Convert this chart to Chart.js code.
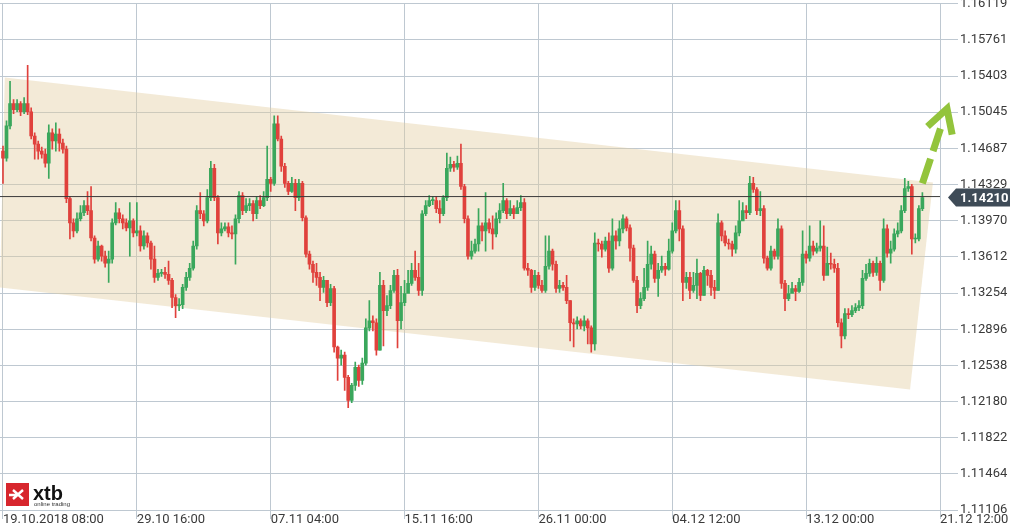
<!DOCTYPE html>
<html>
<head>
<meta charset="utf-8">
<script src="https://cdn.jsdelivr.net/npm/chart.js@4.4.0/dist/chart.umd.min.js"></script>
<style>
  html, body { margin: 0; padding: 0; background: #fff; overflow: hidden; }
  #wrap { width: 1016px; height: 524px; position: relative; overflow: hidden; }
  #chart { position: absolute; left: 0; top: -6px; }
</style>
</head>
<body>
<div id="wrap"><canvas id="chart" width="1016" height="530"></canvas></div>
<script>
// EURUSD H4, 19.10 - 21.12.2018
const xTickLabels = ["19.10.2018 08:00", "29.10 16:00", "07.11 04:00", "15.11 16:00",
  "26.11 00:00", "04.12 12:00", "13.12 00:00", "21.12 12:00"];
const xTickPositions = [0, 38, 76, 114, 152, 190, 228, 266];
const yTickLabels = ["1.11106", "1.11464", "1.11822", "1.12180", "1.12538", "1.12896", "1.13254",
  "1.13612", "1.13970", "1.14329", "1.14687", "1.15045", "1.15403", "1.15761", "1.16119"];

const firstOpen = 1.1466;
const closes = [
  1.1459,1.1491,1.1513,1.1507,1.1513,1.1505,1.1513,1.1505,1.1481,1.1473,
  1.1466,1.1463,1.1454,1.1484,1.1476,1.1483,1.1474,1.1468,1.1419,1.1395,
  1.1387,1.1399,1.1405,1.1412,1.1407,1.1380,1.1359,1.1372,1.1362,1.1355,
  1.1359,1.1395,1.1405,1.1399,1.1395,1.1390,1.1397,1.1385,1.1387,1.1372,
  1.1382,1.1375,1.1359,1.1341,1.1345,1.1346,1.1344,1.1338,1.1321,1.1313,
  1.1314,1.1331,1.1341,1.1350,1.1372,1.1407,1.1404,1.1397,1.1420,1.1449,
  1.1420,1.1385,1.1389,1.1391,1.1385,1.1384,1.1399,1.1422,1.1407,1.1412,
  1.1414,1.1404,1.1417,1.1412,1.1420,1.1438,1.1434,1.1493,1.1478,1.1451,
  1.1434,1.1426,1.1434,1.1420,1.1434,1.1400,1.1364,1.1354,1.1346,1.1341,
  1.1331,1.1338,1.1316,1.1330,1.1272,1.1261,1.1264,1.1242,1.1219,1.1234,
  1.1252,1.1239,1.1256,1.1291,1.1298,1.1296,1.1269,1.1333,1.1308,1.1313,
  1.1328,1.1343,1.1298,1.1316,1.1325,1.1335,1.1348,1.1341,1.1328,1.1404,
  1.1412,1.1417,1.1417,1.1409,1.1404,1.1420,1.1449,1.1453,1.1450,1.1454,
  1.1431,1.1399,1.1362,1.1367,1.1374,1.1392,1.1387,1.1395,1.1389,1.1384,
  1.1399,1.1407,1.1417,1.1404,1.1409,1.1404,1.1410,1.1415,1.1350,1.1348,
  1.1331,1.1343,1.1333,1.1328,1.1352,1.1367,1.1354,1.1330,1.1333,1.1331,
  1.1318,1.1296,1.1295,1.1298,1.1293,1.1298,1.1291,1.1275,1.1375,1.1374,
  1.1369,1.1377,1.1350,1.1382,1.1377,1.1389,1.1399,1.1390,1.1370,1.1338,
  1.1313,1.1320,1.1331,1.1354,1.1364,1.1340,1.1348,1.1352,1.1349,1.1367,
  1.1387,1.1407,1.1389,1.1336,1.1341,1.1328,1.1333,1.1345,1.1323,1.1348,
  1.1343,1.1331,1.1328,1.1395,1.1382,1.1375,1.1374,1.1369,1.1385,1.1397,
  1.1407,1.1405,1.1434,1.1428,1.1407,1.1409,1.1360,1.1350,1.1367,1.1362,
  1.1389,1.1335,1.1320,1.1325,1.1330,1.1327,1.1336,1.1364,1.1360,1.1372,
  1.1367,1.1370,1.1372,1.1343,1.1355,1.1354,1.1350,1.1296,1.1283,1.1305,
  1.1304,1.1308,1.1311,1.1313,1.1340,1.1345,1.1355,1.1346,1.1355,1.1338,
  1.1389,1.1365,1.1369,1.1384,1.1387,1.1407,1.1429,1.1431,1.1379,1.1379,
  1.1409,1.1420
];
const highs = [
  1.1471,1.1496,1.1535,1.1517,1.1517,1.1515,1.1519,1.1551,1.1509,1.1484,
  1.1476,1.1470,1.1468,1.1492,1.1488,1.1494,1.1488,1.1478,1.1471,1.1421,
  1.1399,1.1405,1.1412,1.1417,1.1426,1.1431,1.1382,1.1377,1.1373,1.1367,
  1.1367,1.1399,1.1415,1.1409,1.1403,1.1399,1.1415,1.1399,1.1415,1.1392,
  1.1387,1.1385,1.1377,1.1372,1.1349,1.1349,1.1351,1.1357,1.1340,1.1324,
  1.1320,1.1334,1.1346,1.1355,1.1377,1.1412,1.1425,1.1407,1.1428,1.1456,
  1.1453,1.1422,1.1395,1.1395,1.1395,1.1392,1.1403,1.1426,1.1425,1.1419,
  1.1419,1.1417,1.1421,1.1422,1.1426,1.1471,1.1440,1.1501,1.1501,1.1481,
  1.1454,1.1436,1.1440,1.1438,1.1438,1.1436,1.1402,1.1367,1.1357,1.1355,
  1.1346,1.1342,1.1338,1.1334,1.1332,1.1273,1.1269,1.1267,1.1244,1.1236,
  1.1257,1.1254,1.1261,1.1300,1.1318,1.1303,1.1300,1.1346,1.1338,1.1323,
  1.1333,1.1348,1.1349,1.1332,1.1338,1.1348,1.1355,1.1367,1.1355,1.1407,
  1.1417,1.1422,1.1421,1.1421,1.1417,1.1422,1.1464,1.1460,1.1456,1.1461,
  1.1473,1.1433,1.1402,1.1377,1.1379,1.1409,1.1395,1.1425,1.1399,1.1402,
  1.1405,1.1414,1.1434,1.1419,1.1417,1.1412,1.1417,1.1422,1.1419,1.1355,
  1.1349,1.1348,1.1346,1.1338,1.1382,1.1382,1.1369,1.1357,1.1338,1.1336,
  1.1343,1.1318,1.1300,1.1302,1.1300,1.1303,1.1300,1.1293,1.1385,1.1379,
  1.1377,1.1381,1.1385,1.1399,1.1387,1.1397,1.1403,1.1401,1.1393,1.1373,
  1.1342,1.1326,1.1350,1.1377,1.1372,1.1367,1.1355,1.1362,1.1355,1.1379,
  1.1395,1.1417,1.1417,1.1392,1.1346,1.1346,1.1346,1.1359,1.1346,1.1352,
  1.1349,1.1348,1.1338,1.1404,1.1397,1.1387,1.1379,1.1377,1.1392,1.1417,
  1.1415,1.1412,1.1441,1.1440,1.1430,1.1426,1.1412,1.1362,1.1372,1.1369,
  1.1399,1.1392,1.1338,1.1333,1.1336,1.1333,1.1340,1.1387,1.1367,1.1392,
  1.1377,1.1375,1.1397,1.1392,1.1371,1.1365,1.1359,1.1355,1.1300,1.1310,
  1.1310,1.1313,1.1315,1.1318,1.1348,1.1354,1.1359,1.1357,1.1361,1.1357,
  1.1399,1.1393,1.1377,1.1389,1.1395,1.1412,1.1439,1.1436,1.1433,1.1384,
  1.1412,1.1425
];
const lows = [
  1.1434,1.1456,1.1488,1.1503,1.1505,1.1501,1.1503,1.1502,1.1478,1.1458,
  1.1458,1.1459,1.1450,1.1439,1.1468,1.1466,1.1466,1.1464,1.1415,1.1379,
  1.1381,1.1385,1.1397,1.1402,1.1403,1.1377,1.1355,1.1357,1.1357,1.1351,
  1.1336,1.1355,1.1393,1.1395,1.1389,1.1387,1.1362,1.1381,1.1382,1.1367,
  1.1369,1.1371,1.1349,1.1336,1.1338,1.1342,1.1340,1.1334,1.1311,1.1301,
  1.1308,1.1310,1.1328,1.1338,1.1348,1.1369,1.1399,1.1392,1.1395,1.1417,
  1.1417,1.1374,1.1382,1.1387,1.1381,1.1379,1.1354,1.1395,1.1403,1.1405,
  1.1407,1.1397,1.1399,1.1409,1.1411,1.1417,1.1426,1.1432,1.1476,1.1446,
  1.1430,1.1423,1.1425,1.1407,1.1417,1.1397,1.1361,1.1349,1.1336,1.1333,
  1.1318,1.1326,1.1312,1.1313,1.1267,1.1239,1.1254,1.1229,1.1212,1.1217,
  1.1229,1.1233,1.1235,1.1254,1.1288,1.1288,1.1264,1.1269,1.1273,1.1303,
  1.1310,1.1326,1.1271,1.1290,1.1313,1.1328,1.1333,1.1338,1.1323,1.1323,
  1.1402,1.1411,1.1413,1.1405,1.1395,1.1402,1.1417,1.1446,1.1446,1.1448,
  1.1428,1.1395,1.1359,1.1359,1.1365,1.1367,1.1377,1.1367,1.1385,1.1369,
  1.1381,1.1395,1.1405,1.1399,1.1402,1.1399,1.1404,1.1407,1.1348,1.1343,
  1.1326,1.1328,1.1330,1.1326,1.1326,1.1349,1.1348,1.1326,1.1326,1.1328,
  1.1315,1.1278,1.1272,1.1290,1.1290,1.1288,1.1275,1.1267,1.1269,1.1367,
  1.1361,1.1367,1.1346,1.1348,1.1369,1.1372,1.1385,1.1387,1.1357,1.1336,
  1.1306,1.1310,1.1318,1.1328,1.1349,1.1336,1.1322,1.1346,1.1343,1.1348,
  1.1365,1.1385,1.1377,1.1318,1.1330,1.1320,1.1326,1.1320,1.1318,1.1323,
  1.1333,1.1323,1.1320,1.1328,1.1377,1.1372,1.1369,1.1362,1.1365,1.1382,
  1.1399,1.1399,1.1403,1.1425,1.1403,1.1402,1.1355,1.1348,1.1348,1.1359,
  1.1359,1.1330,1.1308,1.1318,1.1326,1.1318,1.1326,1.1333,1.1355,1.1357,
  1.1363,1.1365,1.1367,1.1338,1.1348,1.1349,1.1346,1.1292,1.1271,1.1280,
  1.1300,1.1302,1.1306,1.1308,1.1310,1.1338,1.1342,1.1342,1.1343,1.1328,
  1.1336,1.1361,1.1355,1.1367,1.1381,1.1385,1.1405,1.1426,1.1364,1.1375,
  1.1377,1.1407
];
const lastPrice = 1.14210;

// trend channel corners (candle index, price)
const channelX = [0.5, 264, 257.5, -0.85, 0.5];
const channelY = [1.1539, 1.1435, 1.1230, 1.1331, 1.1539];
// green arrow (from, to)
const arrowX = [261, 268];
const arrowY = [1.1434, 1.1508];

const xMin = -0.85;
const xMax = 266;
const gridColor = "#bec8d1";
const textColor = "#3a3a3a";
const upColor = "#3aa75c";
const downColor = "#e0413c";

const opens = closes.map((c, i) => i === 0 ? firstOpen : closes[i - 1]);
const candleColors = closes.map((c, i) => c >= opens[i] ? upColor : downColor);

Chart.defaults.font.family = "Roboto";

const overlay = {
  id: "overlay",
  afterDraw(chart) {
    const ctx = chart.ctx;
    const xs = chart.scales.x;
    const ys = chart.scales.y;
    const area = chart.chartArea;
    ctx.save();

    // dashed green arrow
    const x0 = xs.getPixelForValue(arrowX[0]), y0 = ys.getPixelForValue(arrowY[0]);
    const x1 = xs.getPixelForValue(arrowX[1]), y1 = ys.getPixelForValue(arrowY[1]);
    const len = Math.hypot(x1 - x0, y1 - y0);
    const bx = (x0 - x1) / len, by = (y0 - y1) / len;
    const px = -by, py = bx;
    ctx.strokeStyle = "#93c43c";
    ctx.lineWidth = 7;
    ctx.lineCap = "butt";
    ctx.setLineDash([26, 8]);
    ctx.beginPath();
    ctx.moveTo(x0, y0);
    ctx.lineTo(x1 + bx * 21, y1 + by * 21);
    ctx.stroke();
    ctx.setLineDash([]);
    ctx.lineJoin = "miter";
    ctx.beginPath();
    ctx.moveTo(x1 + bx * 23 + px * 13, y1 + by * 23 + py * 13);
    ctx.lineTo(x1, y1);
    ctx.lineTo(x1 + bx * 23 - px * 13, y1 + by * 23 - py * 13);
    ctx.stroke();

    // last price tag
    const ly = Math.round(ys.getPixelForValue(lastPrice)) + 0.5;
    const tip = area.right + 8;
    ctx.fillStyle = "#3e4b57";
    ctx.beginPath();
    ctx.moveTo(tip, ly);
    ctx.lineTo(tip + 8, ly - 9);
    ctx.lineTo(tip + 62, ly - 9);
    ctx.lineTo(tip + 62, ly + 9);
    ctx.lineTo(tip + 8, ly + 9);
    ctx.closePath();
    ctx.fill();
    ctx.fillStyle = "#ffffff";
    ctx.font = "bold 13px Roboto";
    ctx.textBaseline = "middle";
    ctx.textAlign = "left";
    ctx.fillText(lastPrice.toFixed(5), area.right + 20, ly + 1);

    // xtb logo
    const lx = area.left + 6, lt = area.bottom - 27;
    ctx.fillStyle = "#d7262d";
    ctx.fillRect(lx, lt, 23, 23);
    ctx.strokeStyle = "#ffffff";
    ctx.lineWidth = 2.4;
    ctx.beginPath();
    ctx.moveTo(lx + 7, lt + 7); ctx.lineTo(lx + 17, lt + 16);
    ctx.moveTo(lx + 7, lt + 16); ctx.lineTo(lx + 17, lt + 7);
    ctx.moveTo(lx + 3, lt + 12); ctx.lineTo(lx + 11, lt + 12);
    ctx.stroke();
    ctx.fillStyle = "#111111";
    ctx.textBaseline = "alphabetic";
    ctx.font = "bold 20px 'Liberation Sans', Arial";
    ctx.fillText("xtb", lx + 27, lt + 17);
    ctx.font = "6px 'Liberation Sans', Arial";
    ctx.fillStyle = "#333333";
    ctx.fillText("online trading", lx + 28, lt + 23);
    ctx.restore();
  }
};

new Chart(document.getElementById("chart"), {
  type: "bar",
  data: {
    datasets: [
      {
        type: "line",
        label: "channel",
        data: channelX.map((x, i) => ({ x: x, y: channelY[i] })),
        fill: "shape",
        backgroundColor: "rgba(226, 205, 160, 0.42)",
        borderWidth: 0,
        pointRadius: 0,
        tension: 0,
        order: 3
      },
      {
        label: "wicks",
        data: closes.map((c, i) => ({ x: i, y: [lows[i], highs[i]] })),
        backgroundColor: candleColors,
        barThickness: 1,
        grouped: false,
        order: 2
      },
      {
        label: "bodies",
        data: closes.map((c, i) => ({ x: i, y: [opens[i], c] })),
        backgroundColor: candleColors,
        barThickness: 3,
        minBarLength: 1,
        grouped: false,
        order: 1
      },
      {
        type: "line",
        label: "last",
        data: [{ x: xMin, y: lastPrice }, { x: xMax, y: lastPrice }],
        borderColor: "#3b3b3b",
        borderWidth: 1,
        pointRadius: 0,
        fill: false,
        order: 0
      }
    ]
  },
  options: {
    responsive: false,
    animation: false,
    devicePixelRatio: 1,
    layout: { autoPadding: false, padding: { top: 2, left: 0, right: 0, bottom: 0 } },
    plugins: { legend: { display: false }, tooltip: { enabled: false } },
    scales: {
      x: {
        type: "linear",
        min: xMin,
        max: xMax,
        offset: false,
        grid: { color: gridColor, tickLength: 9, offset: false },
        border: { color: gridColor },
        afterBuildTicks: (s) => { s.ticks = xTickPositions.map(v => ({ value: v })); },
        afterFit: (s) => { s.height = 14; },
        ticks: {
          autoSkip: false,
          maxRotation: 0,
          align: "start",
          padding: -7,
          color: textColor,
          font: { size: 13 },
          callback: (v, i) => xTickLabels[i]
        }
      },
      y: {
        position: "right",
        min: parseFloat(yTickLabels[0]),
        max: parseFloat(yTickLabels[yTickLabels.length - 1]),
        grid: { color: gridColor, tickLength: 18 },
        border: { color: gridColor },
        afterBuildTicks: (s) => { s.ticks = yTickLabels.map(v => ({ value: parseFloat(v) })); },
        afterFit: (s) => { s.width = 76; },
        ticks: {
          padding: 2,
          color: textColor,
          font: { size: 13 },
          callback: (v, i) => yTickLabels[i]
        }
      }
    }
  },
  plugins: [overlay]
});
</script>
</body>
</html>
